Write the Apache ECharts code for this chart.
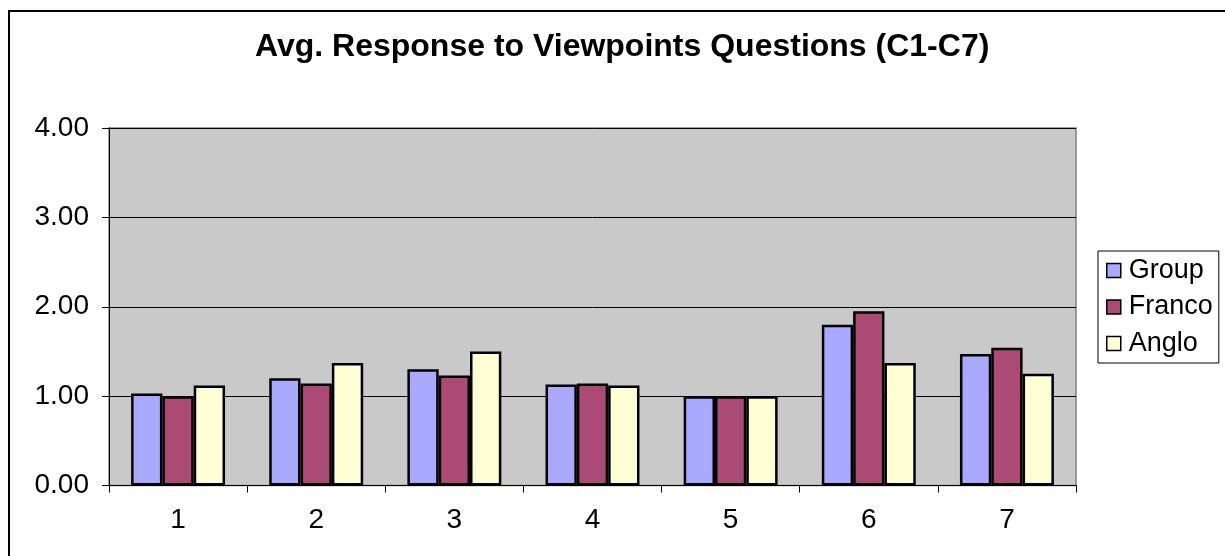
<!DOCTYPE html>
<html>
<head>
<meta charset="utf-8">
<script src="https://cdn.jsdelivr.net/npm/echarts@6/dist/echarts.min.js"></script>
<style>
  html, body { margin: 0; padding: 0; background: #fff; }
  #chart { width: 1225px; height: 556px; }
</style>
</head>
<body>
<div id="chart"></div>
<script>
const titleText = 'Avg. Response to Viewpoints Questions (C1-C7)';
const categories = ['1', '2', '3', '4', '5', '6', '7'];
const groupValues  = [1.03, 1.20, 1.30, 1.13, 1.00, 1.80, 1.47];
const francoValues = [1.00, 1.14, 1.23, 1.14, 1.00, 1.95, 1.54];
const angloValues  = [1.12, 1.37, 1.50, 1.12, 1.00, 1.37, 1.25];
const seriesNames = ['Group', 'Franco', 'Anglo'];
const seriesColors = ['#A9A9FF', '#AA4A75', '#FFFFD5'];

const FONT = '"Liberation Sans", Arial, sans-serif';
const chart = echarts.init(document.getElementById('chart'), null, { renderer: 'canvas' });

const values = [groupValues, francoValues, angloValues];
const series = seriesNames.map((name, i) => ({
  name: name,
  type: 'bar',
  data: values[i],
  barGap: '0%',
  barCategoryGap: '32%',
  itemStyle: { color: seriesColors[i], borderColor: '#000', borderWidth: 2.5 },
  emphasis: { disabled: true }
}));

chart.setOption({
  animation: false,
  backgroundColor: '#fff',
  title: {
    text: titleText,
    left: 255,
    top: 31,
    padding: 0,
    textStyle: { fontFamily: FONT, fontWeight: 'bold', fontSize: 32, color: '#000', lineHeight: 32 }
  },
  graphic: [
    {
      type: 'rect', z: -1, silent: true,
      shape: { x: 9, y: 11, width: 1400, height: 700 },
      style: { fill: 'none', stroke: '#000', lineWidth: 2 }
    }
  ],
  legend: {
    orient: 'vertical',
    left: 1098,
    top: 251,
    padding: [6, 6, 6, 8],
    itemWidth: 14,
    itemHeight: 14,
    itemGap: 9.5,
    icon: 'rect',
    borderColor: '#000',
    borderWidth: 1,
    backgroundColor: '#fff',
    itemStyle: { borderColor: '#000', borderWidth: 1.5 },
    textStyle: { fontFamily: FONT, fontSize: 27, color: '#000', lineHeight: 27, padding: [0, 0, 0, 3] },
    data: seriesNames
  },
  grid: {
    left: 109, top: 128, right: 149, bottom: 70.5,
    show: true, backgroundColor: '#C9C9C9', borderColor: '#808080', borderWidth: 1.5,
    containLabel: false
  },
  xAxis: {
    type: 'category',
    data: categories,
    axisLine: { lineStyle: { color: '#000', width: 1 } },
    axisTick: { show: true, alignWithLabel: false, length: 7, lineStyle: { color: '#000' } },
    axisLabel: { fontFamily: FONT, fontSize: 28, color: '#000', margin: 21 },
    splitLine: { show: false }
  },
  yAxis: {
    type: 'value',
    min: 0, max: 4, interval: 1,
    axisLine: { show: true, lineStyle: { color: '#000', width: 1 } },
    axisTick: { show: true, length: 7, lineStyle: { color: '#000' } },
    axisLabel: { fontFamily: FONT, fontSize: 28, color: '#000', margin: 20, formatter: v => v.toFixed(2) },
    splitLine: { show: true, lineStyle: { color: '#000', width: 1 } }
  },
  series: series
});
</script>
</body>
</html>
